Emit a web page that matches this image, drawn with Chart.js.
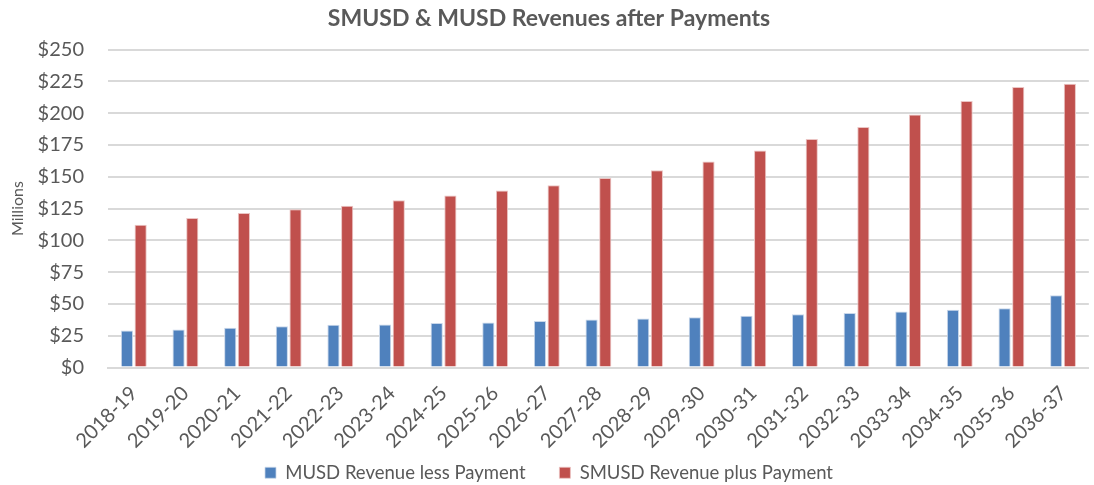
<!DOCTYPE html>
<html>
<head>
<meta charset="utf-8">
<script src="https://cdn.jsdelivr.net/npm/chart.js@4/dist/chart.umd.min.js"></script>
<style>
html,body{margin:0;padding:0;background:#fff;}
#wrap{width:1094px;height:485px;position:relative;}
</style>
</head>
<body>
<div id="wrap"><canvas id="c" width="1094" height="485"></canvas></div>
<script>
const categories = ["2018-19","2019-20","2020-21","2021-22","2022-23","2023-24","2024-25","2025-26","2026-27","2027-28","2028-29","2029-30","2030-31","2031-32","2032-33","2033-34","2034-35","2035-36","2036-37"];
const musdLessPayment = [29.1,29.9,31.2,32.5,33.6,33.8,34.9,35.4,36.5,37.7,38.6,39.6,40.7,41.8,42.8,44.1,45.5,46.5,56.8];
const smusdPlusPayment = [112.3,117.6,121.5,124.4,127.3,131.5,135.3,139.2,143.4,149.0,155.1,162.0,170.7,179.6,189.1,198.9,209.5,220.6,223.2];
const yTicks = [0,25,50,75,100,125,150,175,200,225,250];

const FONT = "Lato, 'Open Sans', sans-serif";
const GRAY = "#595959";

new Chart(document.getElementById('c'), {
  type: 'bar',
  data: {
    labels: categories,
    datasets: [
      {label: 'MUSD Revenue less Payment', data: musdLessPayment, backgroundColor: '#4F81BD', borderColor: '#c9d7ea', borderWidth: {left:1,right:1,top:1,bottom:0}, categoryPercentage: 0.53, barPercentage: 0.89},
      {label: 'SMUSD Revenue plus Payment', data: smusdPlusPayment, backgroundColor: '#C0504D', borderColor: '#ebc4c3', borderWidth: {left:1,right:1,top:1,bottom:0}, categoryPercentage: 0.53, barPercentage: 0.89}
    ]
  },
  options: {
    responsive: false,
    animation: false,
    devicePixelRatio: 1,
    layout: {padding: {left: 4, right: 0, top: 4, bottom: -7}},
    plugins: {
      title: {display: true, text: 'SMUSD & MUSD Revenues after Payments', color: GRAY, font: {family: FONT, size: 23, weight: 'bold'}, padding: {top: 1, bottom: 17}},
      legend: {
        position: 'bottom',
        labels: {
          color: GRAY, font: {family: FONT, size: 18.5}, boxWidth: 11, boxHeight: 11, padding: 6,
          generateLabels: (chart) => {
            const items = Chart.defaults.plugins.legend.labels.generateLabels(chart);
            items[0].text = items[0].text + '\u2002\u2002\u2002';
            return items;
          }
        }
      },
      tooltip: {enabled: false}
    },
    scales: {
      x: {
        afterFit: (ax) => { ax.height = 90; },
        grid: {display: false, drawTicks: false},
        border: {display: true, color: '#d9d9d9', width: 2},
        ticks: {color: GRAY, font: {family: FONT, size: 20}, minRotation: 45, maxRotation: 45, padding: 14}
      },
      y: {
        min: 0, max: 250,
        afterBuildTicks: (ax) => { ax.ticks = yTicks.map(v => ({value: v})); },
        afterFit: (ax) => { ax.width = 104; },
        grid: {color: '#d9d9d9', lineWidth: 2, drawTicks: false},
        border: {display: false},
        title: {display: true, text: 'Millions', color: GRAY, font: {family: FONT, size: 16}, padding: {top: 4, bottom: 6}},
        ticks: {color: GRAY, font: {family: FONT, size: 20}, padding: 24, callback: (v) => '$' + v}
      }
    }
  }
});
</script>
</body>
</html>
